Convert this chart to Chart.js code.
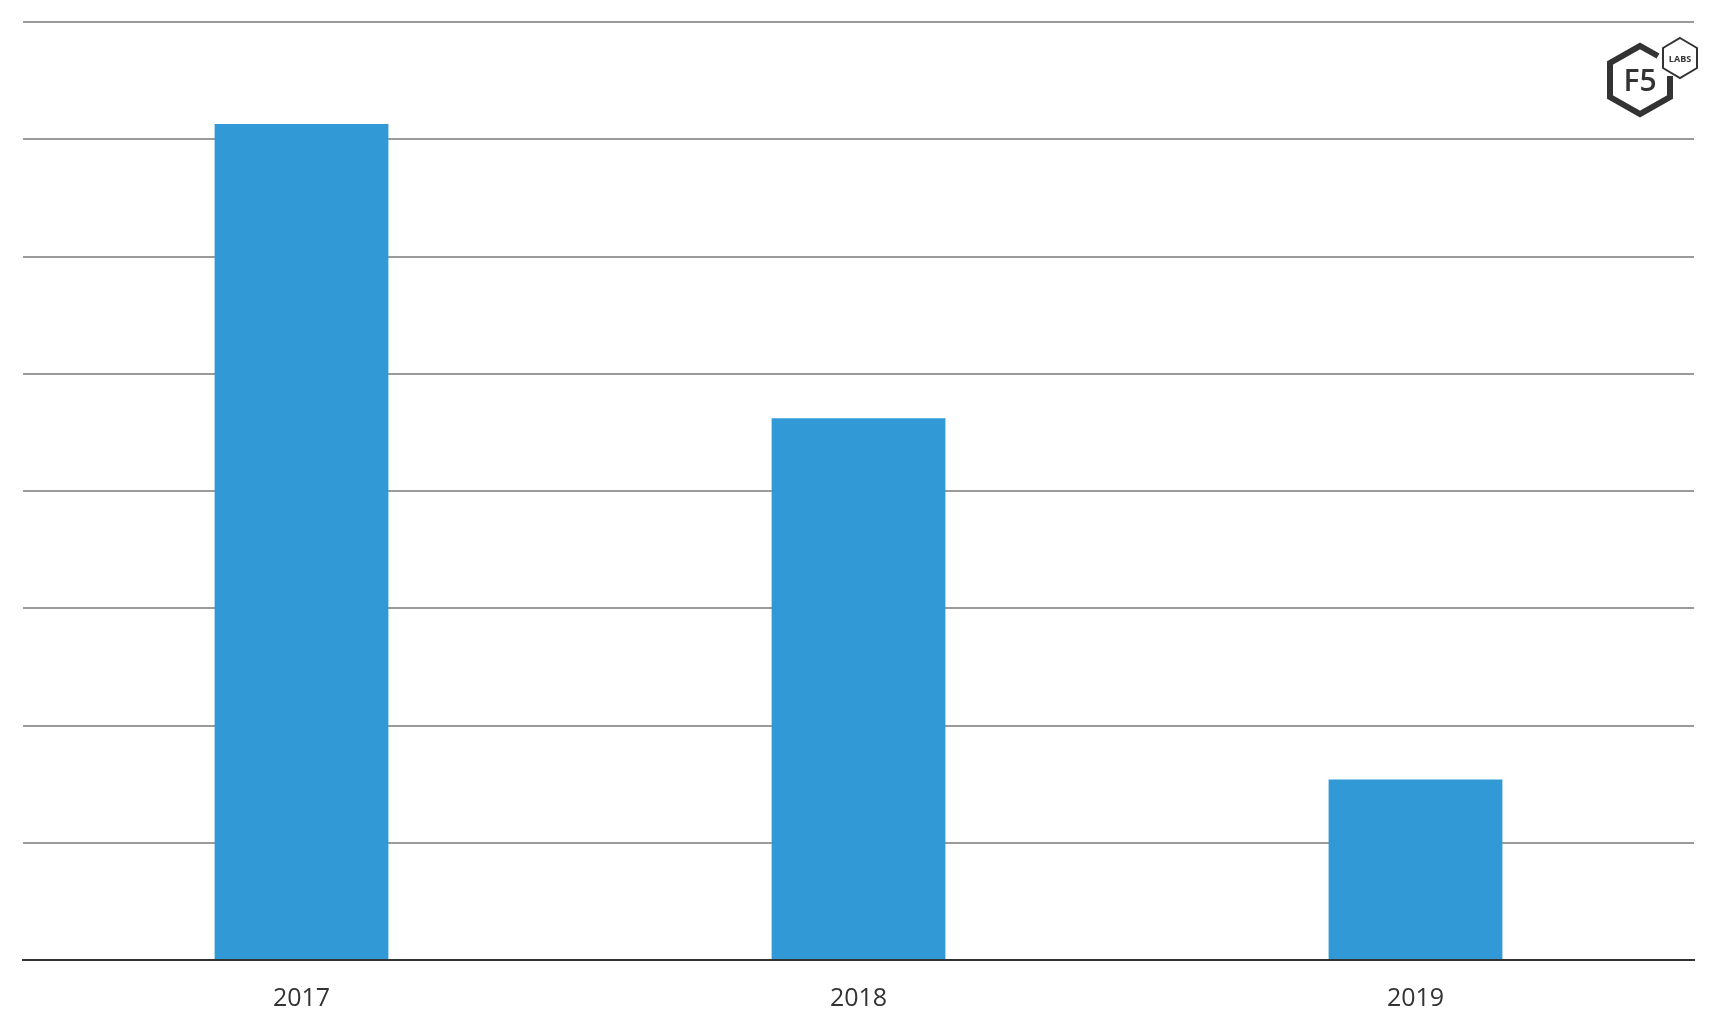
<!DOCTYPE html>
<html>
<head>
<meta charset="utf-8">
<script src="https://cdn.jsdelivr.net/npm/chart.js@4.4.0/dist/chart.umd.min.js"></script>
<style>
  html, body { margin: 0; padding: 0; background: #fff; }
  #wrap { position: relative; width: 1716px; height: 1028px; }
  #logo { position: absolute; left: 1600px; top: 32px; }
</style>
</head>
<body>
<div id="wrap">
  <canvas id="barChart" width="1716" height="1028"></canvas>
  <svg id="logo" width="110" height="95" viewBox="0 0 110 95">
    <!-- big hexagon, broken where the small one sits -->
    <polyline points="58,24 40,14 10,31 10,65 40,82 70,65 70,44"
      fill="none" stroke="#333" stroke-width="6" stroke-linejoin="miter"/>
    <text x="40" y="59" text-anchor="middle" font-family="Open Sans, sans-serif"
      font-size="30" font-weight="600" fill="#333">F5</text>
    <!-- small hexagon -->
    <polygon points="80,6 97,16 97,36 80,46 63,36 63,16"
      fill="#fff" stroke="#333" stroke-width="2"/>
    <text x="80" y="30" text-anchor="middle" font-family="Open Sans, sans-serif"
      font-size="9" font-weight="700" fill="#333">LABS</text>
  </svg>
</div>
<script>
// Data
const years = ["2017", "2018", "2019"];
const values = [7.13, 4.62, 1.54];
const yMax = 8;

const ctx = document.getElementById("barChart");

new Chart(ctx, {
  type: "bar",
  data: {
    labels: years,
    datasets: [{
      data: values,
      backgroundColor: "#3199d6",
      borderWidth: 0,
      barPercentage: 0.312,
      categoryPercentage: 1
    }]
  },
  options: {
    responsive: false,
    animation: false,
    layout: { padding: { left: 23, right: 22, top: 22, bottom: 0 } },
    plugins: { legend: { display: false }, tooltip: { enabled: false } },
    scales: {
      x: {
        grid: { display: false },
        border: { display: true, color: "#333", width: 2 },
        ticks: { color: "#333", padding: 16, font: { family: "Open Sans", size: 25 } },
        afterFit: s => { s.height = 68; }
      },
      y: {
        min: 0,
        max: yMax,
        ticks: { display: false, stepSize: 1 },
        border: { display: false },
        grid: {
          drawTicks: false,
          lineWidth: 2,
          color: c => c.tick.value === 0 ? "#333" : "#9a9a9a"
        }
      }
    }
  }
});
</script>
</body>
</html>
